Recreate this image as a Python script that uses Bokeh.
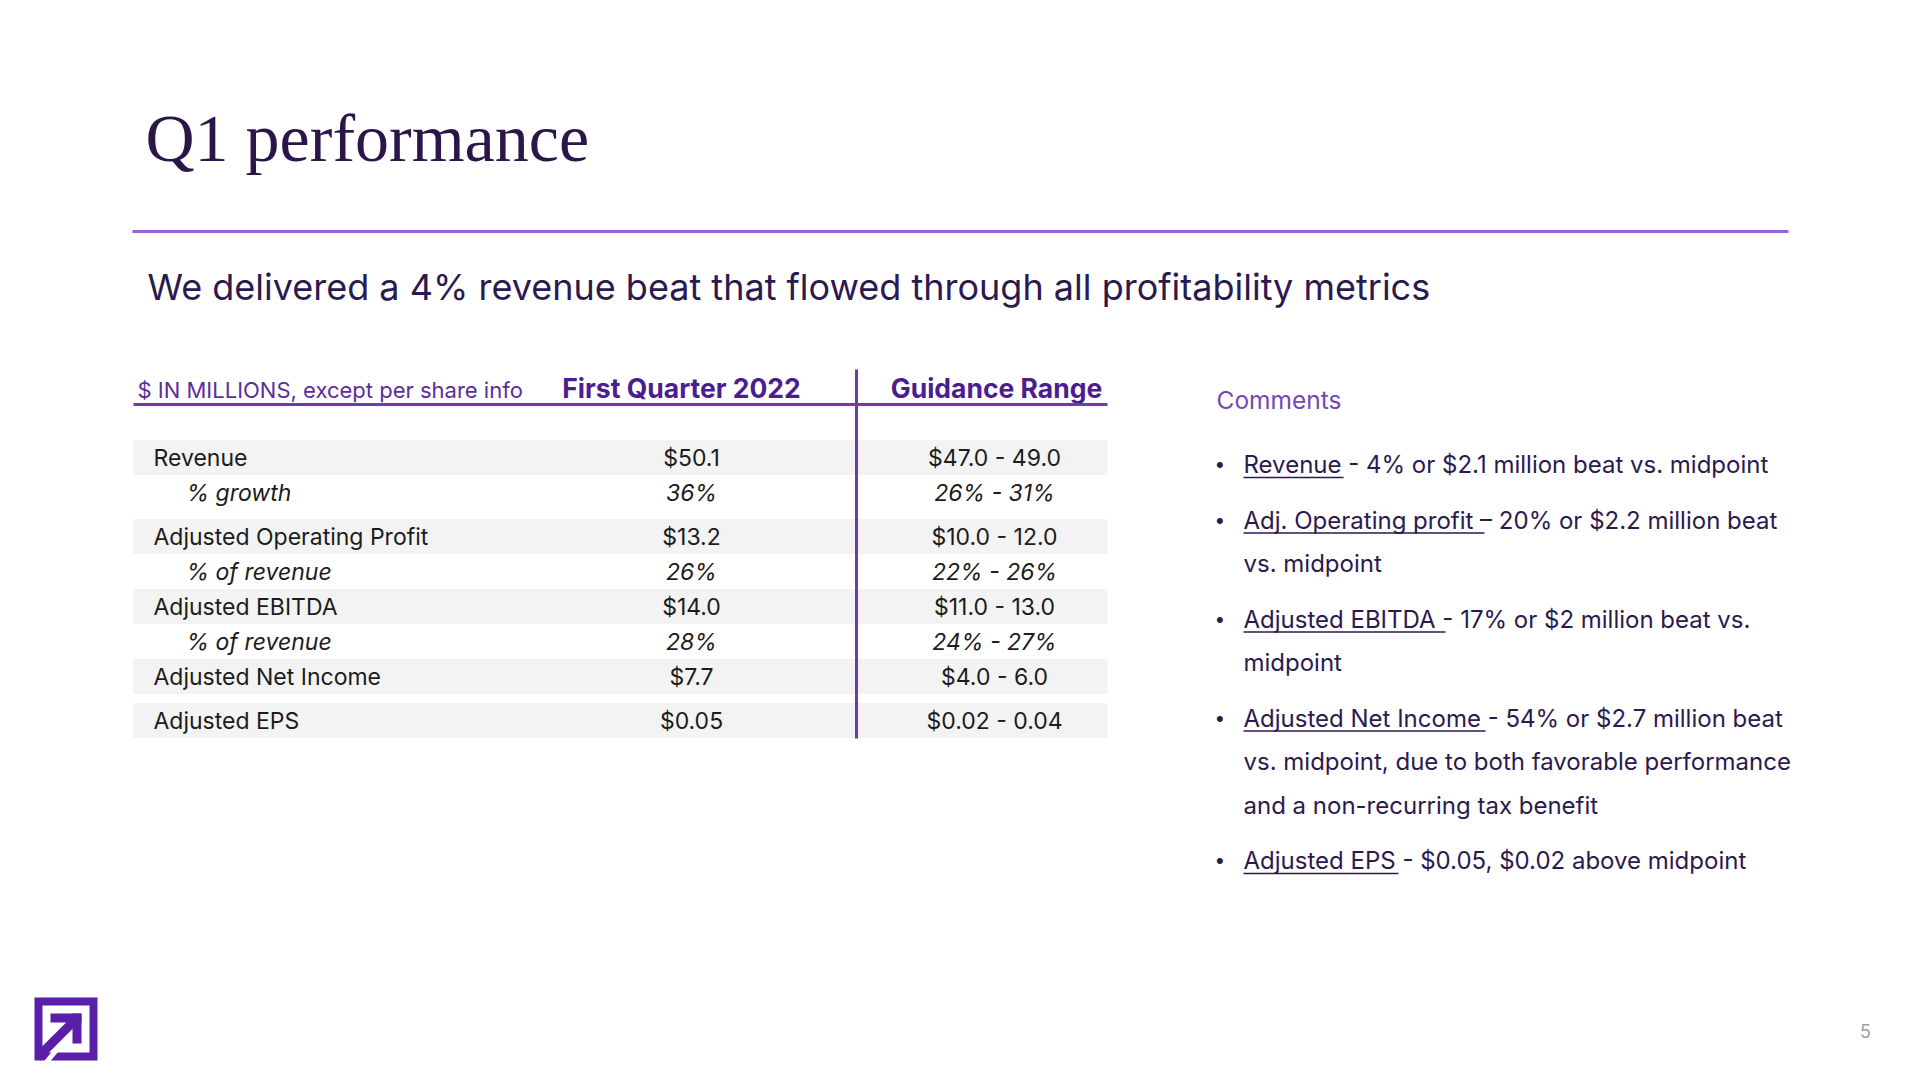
from bokeh.plotting import figure
from bokeh.models import Range1d, ColumnDataSource
from bokeh.core.properties import value
from bokeh.embed import file_html
from bokeh.resources import INLINE

# ---------------- data ----------------
title_text = "Q1 performance"
subtitle_text = "We delivered a 4% revenue beat that flowed through all profitability metrics"
header_note = "$ IN MILLIONS, except per share info"
col_headers = ["First Quarter 2022", "Guidance Range"]
row_labels = ["Revenue", "% growth", "Adjusted Operating Profit", "% of revenue",
              "Adjusted EBITDA", "% of revenue", "Adjusted Net Income", "Adjusted EPS"]
row_is_sub = [False, True, False, True, False, True, False, False]
q1_values = ["$50.1", "36%", "$13.2", "26%", "$14.0", "28%", "$7.7", "$0.05"]
guidance_values = ["$47.0 - 49.0", "26% - 31%", "$10.0 - 12.0", "22% - 26%",
                   "$11.0 - 13.0", "24% - 27%", "$4.0 - 6.0", "$0.02 - 0.04"]
comments_title = "Comments"
comment_bullets = [
    ["Revenue - 4% or $2.1 million beat vs. midpoint"],
    ["Adj. Operating profit \u2013 20% or $2.2 million beat", "vs. midpoint"],
    ["Adjusted EBITDA - 17% or $2 million beat vs.", "midpoint"],
    ["Adjusted Net Income - 54% or $2.7 million beat",
     "vs. midpoint, due to both favorable performance",
     "and a non-recurring tax benefit"],
    ["Adjusted EPS -  $0.05, $0.02 above midpoint"],
]
page_number = "5"

# ---------------- layout / style ----------------
W, H = 1904, 1064
FONT = "Inter"
DARK = "#2b1a4f"
PURPLE = "#5b2d9e"
LINE_PURPLE = "#6f3aaa"
LOGO = "#5a1fa8"

p = figure(width=W, height=H, output_backend="svg", toolbar_location=None,
           x_range=Range1d(0, W), y_range=Range1d(H, 0),
           min_border=0, outline_line_color=None, background_fill_color="white",
           border_fill_color="white")
p.axis.visible = False
p.grid.visible = False

def txt(x, y, t, size, color, align="left", style="normal", font=FONT, baseline="middle"):
    p.text(x=[x], y=[y], text=[t], text_font=value(font), text_font_size=value(size),
           text_color=color, text_align=align, text_baseline=baseline,
           text_font_style=style)

# title
txt(145, 137, title_text, "68px", "#2a1648", font="Liberation Serif", baseline="middle")
# rule
p.segment(x0=[132], y0=[231], x1=[1788], y1=[231], line_color="#9b5fdc", line_width=3)
# subtitle
txt(147, 286, subtitle_text, "36px", DARK)

# table header
TL, TR = 133, 1107
DIV_X = 856
C1, C2 = 681, 996
txt(137, 389, header_note, "22px", PURPLE)
for cx, h in zip([C1, C2], col_headers):
    p.text(x=[cx], y=[387], text=[h], text_font=value(FONT), text_font_size=value("26.5px"),
           text_color="#4a1d91", text_align="center", text_baseline="middle",
           text_font_style="bold")
p.segment(x0=[TL], y0=[404], x1=[TR], y1=[404], line_color=LINE_PURPLE, line_width=3)

# rows
extra_gap = [0, 9, 0, 0, 0, 0, 9, 0]
ys = []
y = 457
for i in range(len(row_labels)):
    y += extra_gap[i - 1] if i > 0 else 0
    ys.append(y)
    y += 35

band_y = [ys[i] for i in range(len(row_labels)) if not row_is_sub[i]]
p.quad(left=TL, right=TR, top=[v - 17.5 for v in band_y], bottom=[v + 17.5 for v in band_y],
       fill_color="#f3f3f3", line_color=None)

def pick(arr, flag):
    return [arr[i] for i in range(len(ys)) if row_is_sub[i] == flag]

C1V, C2V = 691, 994
for flag, style, lx in [(False, "normal", 153), (True, "italic", 186)]:
    src = ColumnDataSource(dict(y=pick(ys, flag), lab=pick(row_labels, flag),
                                q1=pick(q1_values, flag), g=pick(guidance_values, flag)))
    common = dict(source=src, y="y", text_font=value(FONT), text_font_size=value("23px"),
                  text_color="#1c1c1c", text_baseline="middle", text_font_style=style)
    p.text(x=lx, text="lab", text_align="left", **common)
    p.text(x=C1V, text="q1", text_align="center", **common)
    p.text(x=C2V, text="g", text_align="center", **common)

p.segment(x0=[DIV_X], y0=[369], x1=[DIV_X], y1=[738], line_color=LINE_PURPLE, line_width=3)

# comments
txt(1216, 399, comments_title, "24.5px", "#7447b8")
underline_end = [1343, 1484, 1445, 1485, 1398]
line_step = 43.5
bullet_gap = 12
cy = 464
for bi, lines in enumerate(comment_bullets):
    txt(1214, cy, "\u2022", "19px", DARK)
    p.segment(x0=[1243], y0=[cy + 13], x1=[underline_end[bi]], y1=[cy + 13],
              line_color=DARK, line_width=1.5)
    for li, line in enumerate(lines):
        txt(1243, cy + li * line_step, line, "24px", DARK)
    cy += len(lines) * line_step + bullet_gap

# logo
p.quad(left=[38], right=[93], top=[1001], bottom=[1056], fill_color=None,
       line_color=LOGO, line_width=8, line_join="miter")
p.segment(x0=[72], y0=[1030], x1=[44], y1=[1064], line_color="white", line_width=5)
p.segment(x0=[76], y0=[1018], x1=[37], y1=[1057], line_color=LOGO, line_width=9)
p.quad(left=[50], right=[81], top=[1013], bottom=[1022], fill_color=LOGO, line_color=None)
p.quad(left=[72], right=[81], top=[1013], bottom=[1043], fill_color=LOGO, line_color=None)

# page number
txt(1865, 1030, page_number, "18px", "#a0a0a0", align="center")

open("out.html", "w").write(file_html(p, INLINE))
